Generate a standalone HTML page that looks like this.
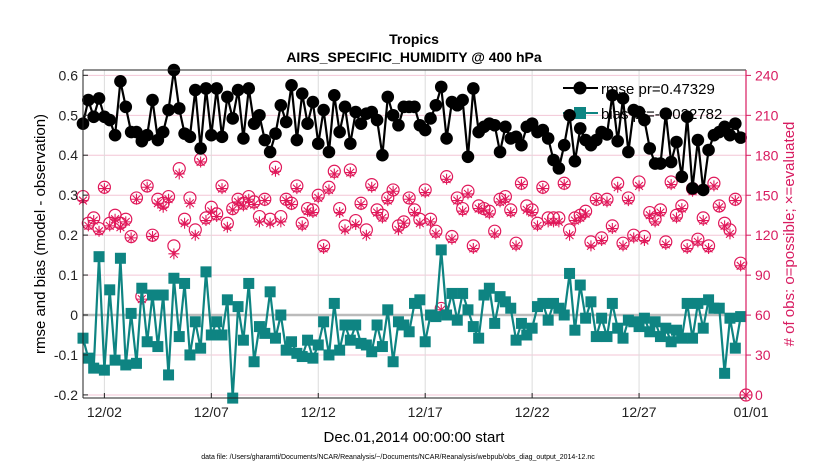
<!DOCTYPE html>
<html><head><meta charset="utf-8"><style>
body{margin:0;background:#fff;}
svg{display:block;font-family:"Liberation Sans",Arial,sans-serif;}
</style></head><body>
<svg id="chart" width="830" height="470" viewBox="0 0 830 470" xmlns="http://www.w3.org/2000/svg">
<rect width="830" height="470" fill="#fff"/>
<g id="grid"></g>
<g id="series"></g>
<g id="axes"></g>
<text x="414" y="44" text-anchor="middle" font-size="14" font-weight="bold">Tropics</text>
<text x="414" y="62" text-anchor="middle" font-size="14" font-weight="bold">AIRS_SPECIFIC_HUMIDITY @ 400 hPa</text>
<text x="414" y="442" text-anchor="middle" font-size="15">Dec.01,2014 00:00:00 start</text>
<text x="398" y="459" text-anchor="middle" font-size="7">data file: /Users/gharamti/Documents/NCAR/Reanalysis/~/Documents/NCAR/Reanalysis/webpub/obs_diag_output_2014-12.nc</text>
<text transform="translate(45,234) rotate(-90)" text-anchor="middle" font-size="15">rmse and bias (model - observation)</text>
<text transform="translate(794,234) rotate(-90)" text-anchor="middle" font-size="15" fill="#d81b60"># of obs: o=possible; ×=evaluated</text>
</svg>
<script>
const rmse=[.479,.538,.496,.542,.496,.488,.45,.585,.521,.458,.458,.435,.45,.538,.438,.458,.513,.613,.517,.454,.446,.563,.417,.567,.45,.567,.446,.546,.492,.563,.442,.567,.479,.5,.438,.408,.454,.525,.483,.575,.438,.554,.479,
.533,.429,.513,.408,.55,.458,.521,.429,.508,.479,.504,.508,.488,.4,.546,.5,.475,.521,.521,.521,.475,.463,.492,.525,.571,.442,.533,.525,.538,.396,.567,.458,.471,.479,.475,.408,.471,.442,.446,.425,.471,.479,
.458,.463,.442,.388,.367,.425,.5,.385,.467,.438,.425,.438,.458,.452,.55,.435,.542,.408,.513,.508,.488,.417,.379,.379,.504,.383,.433,.346,.496,.317,.438,.313,.413,.45,.458,.471,.45,.479,.444];
const bias=[-.058,-.108,-.133,.146,-.138,.063,-.113,.142,-.125,.004,-.121,.067,-.067,.05,-.079,.05,-.15,.092,-.054,.079,-.1,-.017,-.083,.108,-.05,-.017,-.05,.038,-.208,.021,-.063,.079,-.117,-.029,-.046,.058,-.058,0,-.088,-.067,-.096,-.104,-.063,
-.108,-.075,-.017,-.1,.029,-.088,-.025,-.063,-.025,-.071,-.075,-.092,-.025,-.079,.013,-.117,-.017,-.025,-.042,.029,.038,-.067,0,-.004,.163,0,.054,-.013,.054,.013,-.029,-.058,.05,.067,-.021,.046,.033,.017,-.063,-.021,-.05,-.033,
.021,.029,-.013,.029,.017,0,.104,-.038,.075,-.008,.033,-.054,-.008,-.054,.029,-.033,-.058,-.013,-.017,-.029,-.008,-.042,-.017,-.054,-.033,-.067,-.038,-.058,.029,-.058,.029,-.033,.038,.017,.017,-.146,-.008,-.083,-.004];
const possible=[149,129,133,125,156,129,135,129,132,119,148,74,157,120,147,144,149,112,170,132,148,124,177,133,141,136,157,129,140,147,144,149,145,134,147,132,171,134,147,144,157,129,140,
139,150,112,156,168,140,127,169,131,144,124,158,139,135,148,154,127,130,148,139,132,154,132,123,65,164,119,148,140,153,112,142,140,138,123,147,149,139,114,159,142,139,
129,156,133,133,133,159,124,133,135,138,115,147,118,147,127,159,114,148,120,160,119,137,132,139,115,160,135,142,112,155,117,133,112,159,142,129,124,147,99,0];
const evaluated=[146,127,131,123,155,127,132,126,130,118,147,72,156,119,144,141,147,106,166,129,144,120,175,131,138,134,155,126,139,145,142,147,143,130,146,129,168,130,146,143,155,127,138,
137,148,110,154,166,137,124,167,128,143,120,156,137,133,146,153,124,129,147,137,129,152,130,121,64,162,117,146,138,151,110,140,139,136,121,145,147,137,112,158,139,137,
127,155,130,130,130,158,120,131,133,136,112,146,116,145,125,156,112,146,118,157,116,135,130,137,113,158,133,140,110,153,115,131,110,157,141,127,121,146,97,0];
const dateTicks=[1,6,11,16,21,26,31];
const dateLabels=["12/02","12/07","12/12","12/17","12/22","12/27","01/01"];
const leftTicks=[0.6,0.5,0.4,0.3,0.2,0.1,0,-0.1,-0.2];
const rightTicks=[240,210,180,150,120,90,60,30,0];

const NS="http://www.w3.org/2000/svg";
const X0=83,X1=746,Y0=70,Y1=398;
const xs=d=>X0+d*(X1-X0)/31;
const yL=v=>315-v*399.5;
const yR=v=>395-v*(319.6/240);
function mk(tag,attrs,parent){const e=document.createElementNS(NS,tag);for(const k in attrs)e.setAttribute(k,attrs[k]);parent.appendChild(e);return e;}
const grid=document.getElementById('grid'),ser=document.getElementById('series'),ax=document.getElementById('axes');

rightTicks.forEach(t=>{const y=yR(t);
 const l=mk('line',{x1:X0,x2:X1,y1:y,y2:y,stroke:'#f3c6d6','stroke-width':1},grid);
 
 
 mk('line',{x1:X1,x2:X1+5,y1:y,y2:y,stroke:'#d81b60','stroke-width':1},ax);
 const tx=mk('text',{x:X1+9,y:y+5,'font-size':14,fill:'#d81b60'},ax);tx.textContent=t;
 
 
});
dateTicks.forEach((d,i)=>{const x=xs(d);
 const l=mk('line',{x1:x,x2:x,y1:Y0,y2:Y1,stroke:'#dcdcdc','stroke-width':1},grid);
 
 
 mk('line',{x1:x,x2:x,y1:Y1,y2:Y1-5,stroke:'#222'},ax);
 const tx=mk('text',{x:x+(i===6?5:0),y:Y1+19,'font-size':14,'text-anchor':'middle',fill:'#222'},ax);tx.textContent=dateLabels[i];
 
 
});
leftTicks.forEach(t=>{const y=yL(t);
 mk('line',{x1:X0,x2:X0+5,y1:y,y2:y,stroke:'#222'},ax);
 const tx=mk('text',{x:X0-5,y:y+5,'font-size':14,'text-anchor':'end',fill:'#222'},ax);tx.textContent=(t===0?'0':String(t));
 
 
});
const zl=mk('line',{x1:X0,x2:X1,y1:yL(0),y2:yL(0),stroke:'#bbb','stroke-width':2.5},grid);



const lg=mk('g',{},ser);


mk('line',{x1:563,x2:598,y1:88,y2:88,stroke:'#000','stroke-width':2},lg);
mk('circle',{cx:580,cy:88,r:6.5,fill:'#000'},lg);
let lt=mk('text',{x:601,y:94,'font-size':15},lg);lt.textContent='rmse pr=0.47329';
mk('line',{x1:563,x2:598,y1:113,y2:113,stroke:'#0e8482','stroke-width':2},lg);
mk('rect',{x:574,y:107,width:12,height:12,fill:'#0e8482'},lg);
lt=mk('text',{x:601,y:119,'font-size':15},lg);lt.textContent='bias pr=-0.022782';

const step=0.25;
function poly(arr,yf,color,name){
 const pts=arr.map((v,i)=>xs(i*step).toFixed(1)+','+yf(v).toFixed(1)).join(' ');
 const p=mk('polyline',{points:pts,fill:'none',stroke:color,'stroke-width':2.2},ser);
 
 
}
possible.forEach((v,i)=>{
 const c=mk('circle',{cx:xs(i*step),cy:yR(v),r:6,fill:'none',stroke:'#e0185a','stroke-width':1.2},ser);
 
 
});
evaluated.forEach((v,i)=>{
 const x=xs(i*step),y=yR(v),r=5.5;
 const g=mk('path',{d:`M${x-r},${y}H${x+r}M${x},${y-r}V${y+r}M${x-3.9},${y-3.9}L${x+3.9},${y+3.9}M${x-3.9},${y+3.9}L${x+3.9},${y-3.9}`,stroke:'#e0185a','stroke-width':1.1,fill:'none'},ser);
 
 
});
poly(bias,yL,'#0e8482','bias-line');
bias.forEach((v,i)=>{
 const r=mk('rect',{x:xs(i*step)-5.5,y:yL(v)-5.5,width:11,height:11,fill:'#0e8482'},ser);
 
 
});
poly(rmse,yL,'#000','rmse-line');
rmse.forEach((v,i)=>{
 const c=mk('circle',{cx:xs(i*step),cy:yL(v),r:6.3,fill:'#000'},ser);
 
 
});
mk('line',{x1:X0,x2:X0,y1:Y0,y2:Y1,stroke:'#222','stroke-width':1},ax);
mk('line',{x1:X0,x2:X1,y1:Y1,y2:Y1,stroke:'#222','stroke-width':1},ax);
mk('line',{x1:X0,x2:X1,y1:Y0,y2:Y0,stroke:'#222','stroke-width':1},ax);
mk('line',{x1:X1,x2:X1,y1:Y0,y2:Y1,stroke:'#d81b60','stroke-width':1.2},ax);
</script>
</body></html>
